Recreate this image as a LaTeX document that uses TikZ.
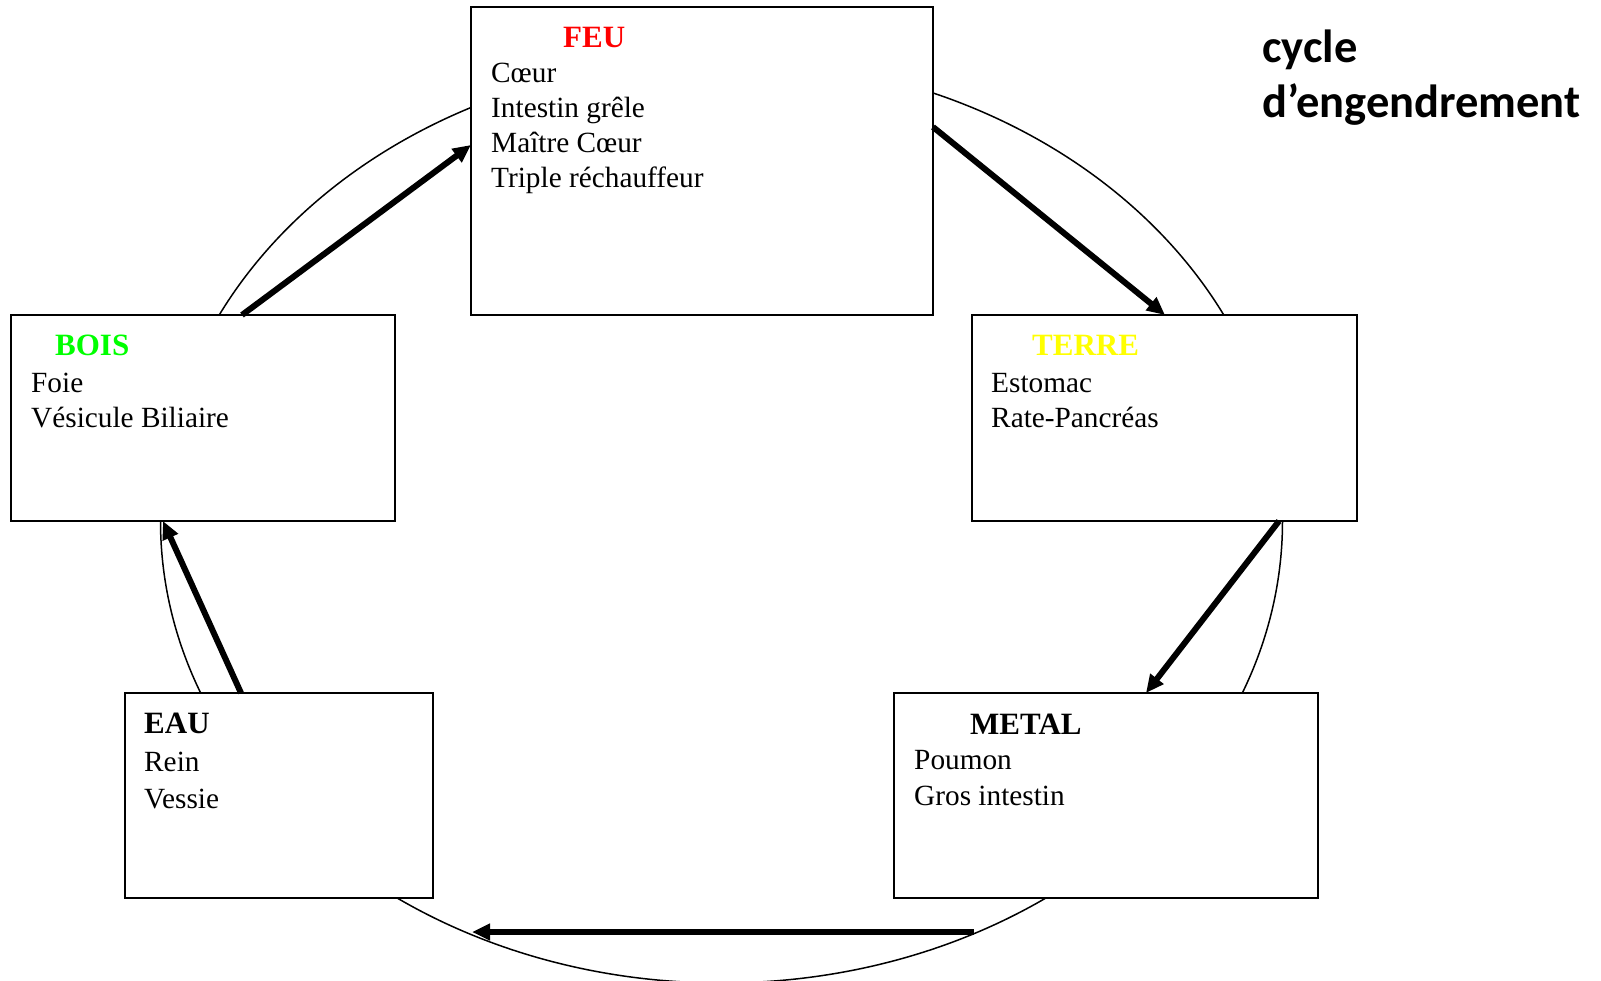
\documentclass[tikz,border=0pt]{standalone}
\usepackage{fontspec}
\setmainfont{Liberation Serif}
\newfontfamily\titlefont{Carlito}
\usetikzlibrary{arrows.meta}
\definecolor{feured}{RGB}{255,0,0}
\definecolor{boisgreen}{RGB}{0,255,0}
\definecolor{terreyellow}{RGB}{255,255,0}
\begin{document}
\begin{tikzpicture}[x=1pt,y=-1pt,
  elem/.style={draw=black,line width=2pt,fill=white,inner sep=0pt,outer sep=0pt},
  txt/.style={anchor=base west,inner sep=0pt,font=\fontsize{29.3}{35}\selectfont},
  head/.style={anchor=base west,inner sep=0pt,font=\fontsize{31}{35}\selectfont\bfseries},
  flow/.style={line width=6pt,-{Triangle[length=18pt,width=16pt]}},
  ttl/.style={anchor=base west,inner sep=0pt,font=\titlefont\bfseries\fontsize{46.5}{55}\selectfont}]
\useasboundingbox (0,0) rectangle (1601,981);
\fill[white] (0,0) rectangle (1601,981);
% ring
\draw[line width=1.5pt] (721.5,521) ellipse [x radius=561, y radius=462];
% boxes
\node[elem,minimum width=462pt,minimum height=308pt] (feu) at (702,161) {};
\node[elem,minimum width=384pt,minimum height=206pt] (bois) at (203,418) {};
\node[elem,minimum width=385pt,minimum height=206pt] (terre) at (1164.5,418) {};
\node[elem,minimum width=308pt,minimum height=205pt] (eau) at (279,795.5) {};
\node[elem,minimum width=424pt,minimum height=205pt] (metal) at (1106,795.5) {};
% texts
\node[head,text=feured] (feuT) at (563,48) {FEU};
\node[txt] (feu1) at (491,83) {Cœur};
\node[txt] (feu2) at (491,118) {Intestin grêle};
\node[txt] (feu3) at (491,153) {Maître Cœur};
\node[txt] (feu4) at (491,188) {Triple réchauffeur};
\node[head,text=boisgreen] (boisT) at (55,356) {BOIS};
\node[txt] (bois1) at (31,392) {Foie};
\node[txt] (bois2) at (31,428) {Vésicule Biliaire};
\node[head,text=terreyellow] (terreT) at (1032,356) {TERRE};
\node[txt] (terre1) at (991,392) {Estomac};
\node[txt] (terre2) at (991,428) {Rate-Pancréas};
\node[head] (eauT) at (144,733) {EAU};
\node[txt] (eau1) at (144,771) {Rein};
\node[txt] (eau2) at (144,808) {Vessie};
\node[head] (metalT) at (970,734) {METAL};
\node[txt] (metal1) at (914,769) {Poumon};
\node[txt] (metal2) at (914,805) {Gros intestin};
% title
\node[ttl] (ttl1) at (1262,63) {cycle};
\node[ttl] (ttl2) at (1262,118) {d’engendrement};
% arrows
\coordinate (m4s) at (974,932);
\coordinate (e4t) at (472,932);
\draw[flow] ([xshift=231pt]bois.north west) -- ([yshift=-138pt]feu.north west);
\draw[flow] ([yshift=-120pt]feu.north east) -- ([xshift=193pt]terre.north west);
\draw[flow] ([xshift=307pt]terre.south west) -- ([xshift=252pt]metal.north west);
\draw[flow] (m4s) -- (e4t);
\draw[flow] ([xshift=116pt]eau.north west) -- ([xshift=152pt]bois.south west);
\end{tikzpicture}
\end{document}
